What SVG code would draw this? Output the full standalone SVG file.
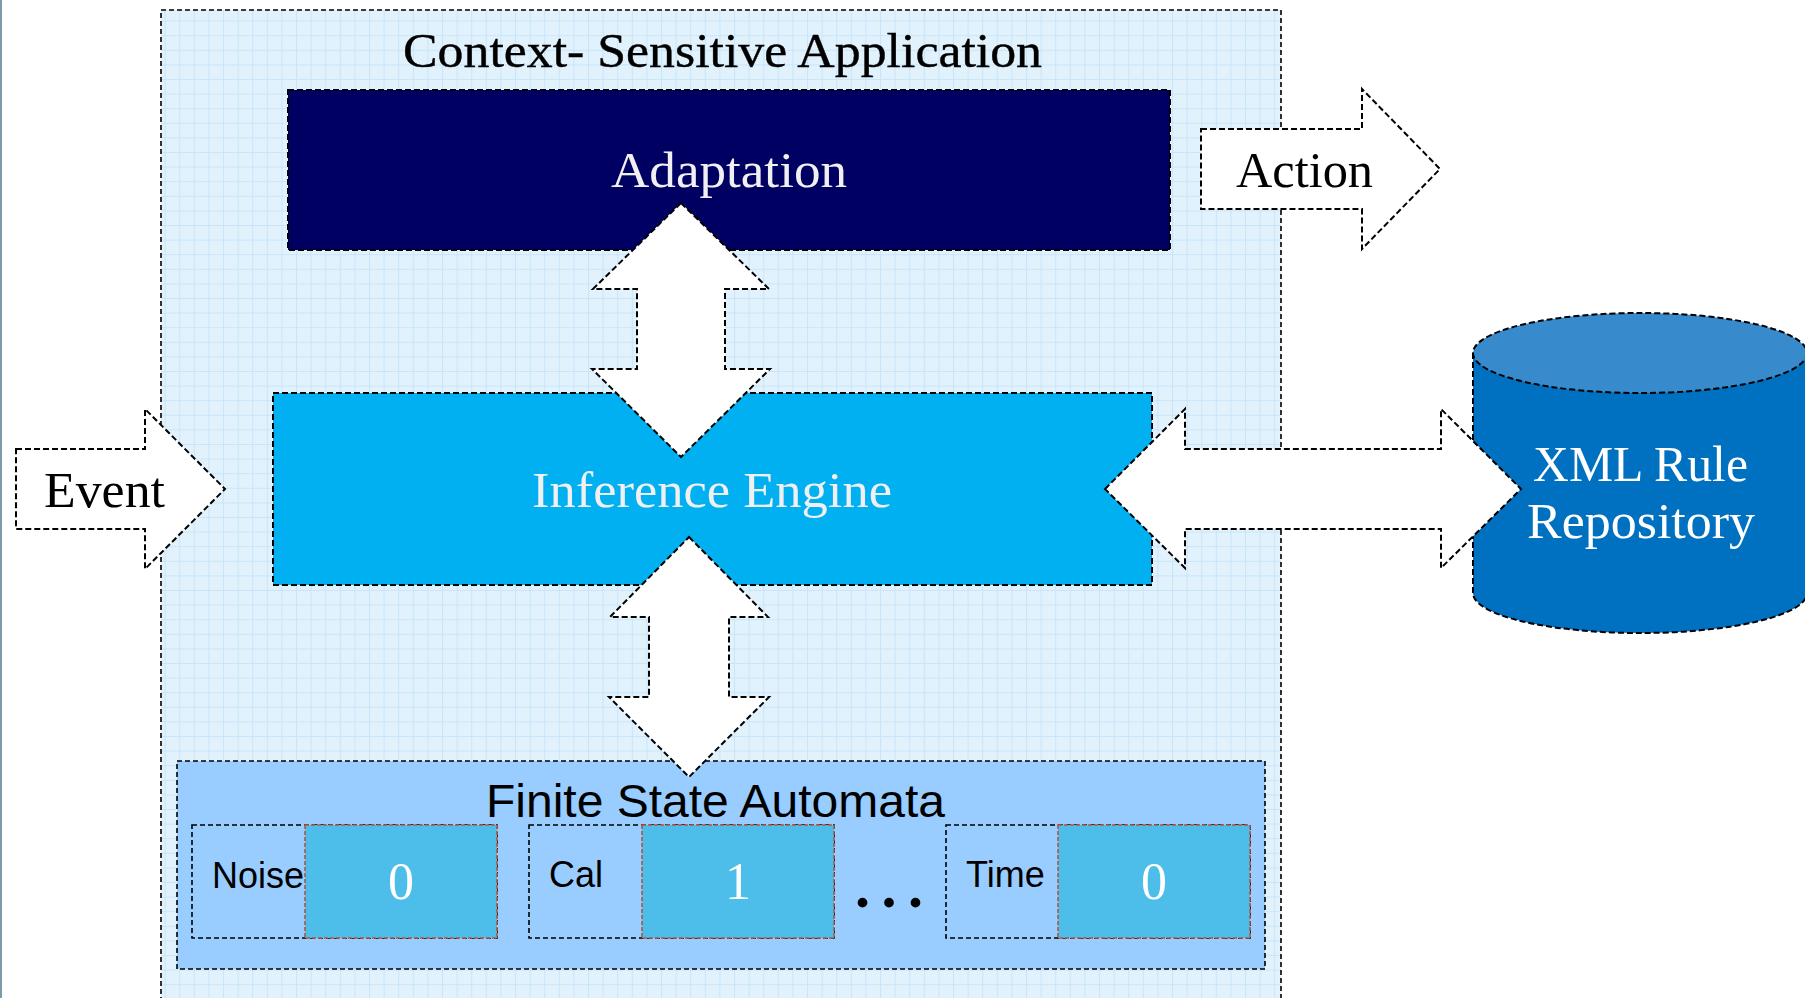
<svg xmlns="http://www.w3.org/2000/svg" width="1805" height="998" viewBox="0 0 1805 998">
  <defs>
    <pattern id="grid" patternUnits="userSpaceOnUse" x="4" y="6" width="14.6" height="14.6">
      <rect width="14.6" height="14.6" fill="#e1f2fd"/>
      <path d="M0 0.5H14.6M0.5 0V14.6" stroke="#c9e5f9" stroke-width="1" fill="none"/>
    </pattern>
    <style>
      .dash { stroke: #000; stroke-width: 2; stroke-dasharray: 6 3; fill: none; }
      .dashfill { stroke: #000; stroke-width: 2; stroke-dasharray: 6 3; }
      .thin { stroke: #000; stroke-width: 1.6; stroke-dasharray: 5 3; }
      .val { fill: #4dbde9; stroke: #b8543f; stroke-width: 1.6; stroke-dasharray: 4 2; }
      .arrow { fill: #fff; stroke: #000; stroke-width: 2; stroke-dasharray: 6 3; stroke-linejoin: miter; }
      .serif { font-family: "Liberation Serif", "Times New Roman", serif; }
      .sans { font-family: "Liberation Sans", Arial, sans-serif; }
      .light { fill: #f0f0f2; }
    </style>
  </defs>

  <rect width="1805" height="998" fill="#fff"/>
  <rect x="0" y="0" width="2" height="998" fill="#7f99a6"/>

  <!-- application frame -->
  <g id="context-app">
    <rect x="161" y="10" width="1120" height="1000" fill="url(#grid)" class="thin"/>
    <text class="serif" x="403" y="67" font-size="48" textLength="639" lengthAdjust="spacingAndGlyphs" fill="#000" stroke="#000" stroke-width="0.4">Context- Sensitive Application</text>
  </g>

  <g id="adaptation">
    <rect x="288" y="90" width="882" height="160" fill="#000063" class="dashfill"/>
    <text class="serif light" x="611" y="187" font-size="50" textLength="236" lengthAdjust="spacingAndGlyphs">Adaptation</text>
  </g>

  <g id="inference-engine">
    <rect x="273" y="393" width="879" height="192" fill="#00b0f0" class="dashfill"/>
    <text class="serif light" x="532" y="507" font-size="50" textLength="360" lengthAdjust="spacingAndGlyphs">Inference Engine</text>
  </g>

  <g id="fsa">
    <rect x="177" y="761" width="1088" height="208" fill="#99ccff" class="thin"/>
    <text class="sans" x="486" y="817" font-size="46" textLength="459" lengthAdjust="spacingAndGlyphs" fill="#000">Finite State Automata</text>
  </g>

  <g id="cell-noise">
    <rect x="192" y="825" width="305" height="113" fill="#99ccff" class="thin"/>
    <rect x="305" y="825" width="192" height="113" class="val"/>
    <text class="sans" x="212" y="888" font-size="36" fill="#000">Noise</text>
    <text class="serif" x="401" y="899" font-size="52" fill="#fff" text-anchor="middle">0</text>
  </g>

  <g id="cell-cal">
    <rect x="529" y="825" width="305" height="113" fill="#99ccff" class="thin"/>
    <rect x="642" y="825" width="192" height="113" class="val"/>
    <text class="sans" x="549" y="887" font-size="36" fill="#000">Cal</text>
    <text class="serif" x="738" y="899" font-size="52" fill="#fff" text-anchor="middle">1</text>
  </g>

  <g id="ellipsis">
    <text class="serif" x="855" y="907" font-size="60" font-weight="bold" fill="#000" textLength="68" lengthAdjust="spacing">...</text>
  </g>

  <g id="cell-time">
    <rect x="946" y="825" width="304" height="113" fill="#99ccff" class="thin"/>
    <rect x="1058" y="825" width="192" height="113" class="val"/>
    <text class="sans" x="966" y="887" font-size="36" fill="#000">Time</text>
    <text class="serif" x="1154" y="899" font-size="52" fill="#fff" text-anchor="middle">0</text>
  </g>

  <!-- rule store cylinder -->
  <g id="xml-repository">
    <path d="M1473 353 V593 A167 40 0 0 0 1807 593 V353 Z" fill="#0070c0"/>
    <path d="M1473 353 V593 A167 40 0 0 0 1807 593" class="dash"/>
    <ellipse cx="1640" cy="353" rx="167" ry="40" fill="#378acb" class="dashfill"/>
    <text class="serif" x="1533" y="481" font-size="50" fill="#fff" textLength="215" lengthAdjust="spacingAndGlyphs">XML Rule</text>
    <text class="serif" x="1527" y="538" font-size="50" fill="#fff" textLength="228" lengthAdjust="spacingAndGlyphs">Repository</text>
  </g>

  <!-- block arrows -->
  <g id="connectors">
    <polygon class="arrow" points="681,203 769,289 725,289 725,369 770,369 681,457 592,369 637,369 637,289 593,289"/>
    <polygon class="arrow" points="689,537 768,617 729,617 729,697 769,697 689,777 609,697 649,697 649,617 610,617"/>
    <polygon class="arrow" points="1105,489 1185,409 1185,449 1441,449 1441,409 1521,489 1441,568 1441,529 1185,529 1185,568"/>
    <g id="event">
      <polygon class="arrow" points="16,449 145,449 145,409 225,489 145,569 145,529 16,529"/>
      <text class="serif" x="44" y="507" font-size="51" fill="#000" textLength="121" lengthAdjust="spacingAndGlyphs">Event</text>
    </g>
    <g id="action">
      <polygon class="arrow" points="1201,129 1362,129 1362,89 1440,169 1362,249 1362,209 1201,209"/>
      <text class="serif" x="1236" y="187" font-size="51" fill="#000" textLength="137" lengthAdjust="spacingAndGlyphs">Action</text>
    </g>
  </g>
</svg>
